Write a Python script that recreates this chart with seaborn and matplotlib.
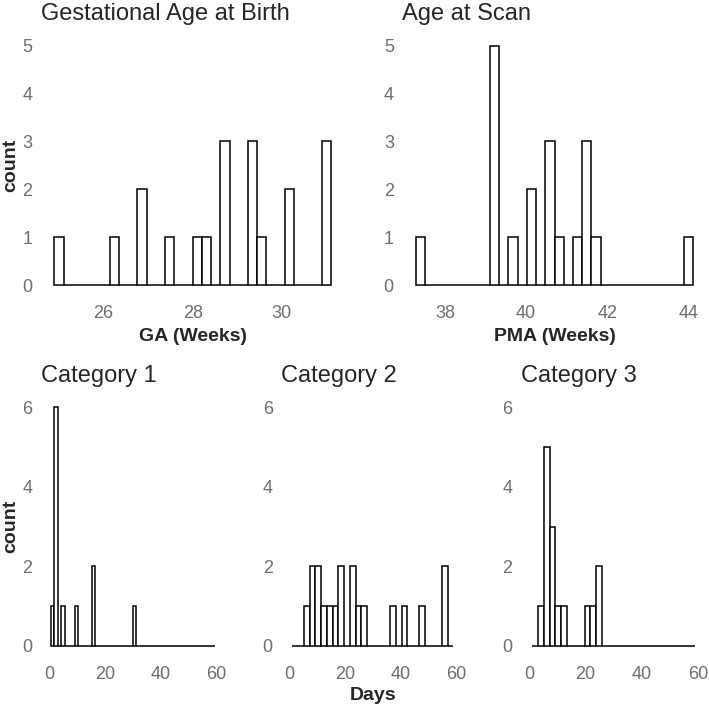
import numpy as np
import pandas as pd
import matplotlib
matplotlib.use('Agg')
import matplotlib.pyplot as plt
import seaborn as sns

# gestational age at birth and age at scan (weeks)
ga_weeks = [25.0, 26.25, 26.85, 26.9, 27.5, 28.1, 28.3, 28.7, 28.7, 28.75,
            29.3, 29.35, 29.4, 29.55, 30.15, 30.2, 31.0, 31.0, 31.0]
pma_weeks = [37.4, 39.2, 39.2, 39.2, 39.25, 39.25, 39.7, 40.1, 40.15,
             40.55, 40.6, 40.6, 40.8, 41.25, 41.5, 41.5, 41.5, 41.7, 44.0]

# days, per category
cat1_days = [1, 2, 2, 2, 3, 3, 3, 5, 10, 16, 16, 31]
cat2_days = [6, 8, 9, 10, 11, 12, 14, 16, 18, 19, 22, 23, 25, 27, 37, 41, 47, 55, 56]
cat3_days = [4, 6, 6, 6, 7, 7, 8, 8, 9, 10, 12, 20, 22, 24, 25]

top_titles = ['Gestational Age at Birth', 'Age at Scan']
bottom_titles = ['Category 1', 'Category 2', 'Category 3']

sns.set_style('white')
plt.rcParams['font.family'] = ['Liberation Sans', 'DejaVu Sans']

TICK_COLOR = '#6e6e6e'
W, H = 709, 708
fig = plt.figure(figsize=(W / 100, H / 100), dpi=100)


def add_panel(left, top, right, bottom):
    return fig.add_axes([left / W, 1 - bottom / H, (right - left) / W, (bottom - top) / H])


def data_bins(values, n=30):
    # ggplot style: 30 bins, first/last centred on min/max
    lo, hi = min(values), max(values)
    w = (hi - lo) / (n - 1)
    return lo - w / 2 + w * np.arange(n + 1)


def limit_bins(n, lo=0, hi=60):
    # bins over the scale limits, outer bins dropped
    w = (hi - lo) / (n - 1)
    edges = lo - w / 2 + w * np.arange(n + 1)
    return edges[1:-1]


def draw_hist(ax, values, bins):
    sns.histplot(x=values, bins=bins, ax=ax, color='white', edgecolor='black',
                 linewidth=1.1, alpha=1)


def style(ax, title, xticks, yticks, ylim, xlim):
    ax.set_xlim(*xlim)
    ax.set_ylim(*ylim)
    ax.set_xticks(xticks)
    ax.set_yticks(yticks)
    ax.tick_params(length=0, pad=6, labelsize=13, colors=TICK_COLOR)
    for s in ax.spines.values():
        s.set_visible(False)
    ax.set_title(title, loc='left', fontsize=17, pad=10)
    ax.set_xlabel('')
    ax.set_ylabel('')


def y_title(ax, left_px, width_px):
    ax.set_ylabel('count', fontsize=14, fontweight='bold')
    ax.yaxis.set_label_coords((19 - left_px) / width_px, 0.5)


# top row
ax1 = add_panel(40.6, 33.7, 344.8, 297)
b1 = data_bins(ga_weeks)
draw_hist(ax1, ga_weeks, b1)
pad1 = 0.05 * (b1[-1] - b1[0])
style(ax1, top_titles[0], [26, 28, 30], range(6), (-0.25, 5.25), (b1[0] - pad1, b1[-1] + pad1))
ax1.set_xlabel('GA (Weeks)', fontsize=14, fontweight='bold', labelpad=4)
y_title(ax1, 40.6, 344.8 - 40.6)

ax2 = add_panel(402.2, 33.7, 706.8, 297)
b2 = data_bins(pma_weeks)
draw_hist(ax2, pma_weeks, b2)
pad2 = 0.05 * (b2[-1] - b2[0])
style(ax2, top_titles[1], [38, 40, 42, 44], range(6), (-0.25, 5.25), (b2[0] - pad2, b2[-1] + pad2))
ax2.set_xlabel('PMA (Weeks)', fontsize=14, fontweight='bold', labelpad=4)

# bottom row
bottom_data = [cat1_days, cat2_days, cat3_days]
bottom_bins = [limit_bins(50), limit_bins(30), limit_bins(30)]
bottom_pos = [(40.9, 225.1), (281.1, 464.5), (520.7, 706.7)]
for i, (vals, bins, (l, r)) in enumerate(zip(bottom_data, bottom_bins, bottom_pos)):
    ax = add_panel(l, 395.4, r, 657.9)
    draw_hist(ax, vals, bins)
    style(ax, bottom_titles[i], [0, 20, 40, 60], [0, 2, 4, 6], (-0.3, 6.3), (-3, 63))
    if i == 0:
        y_title(ax, l, r - l)
    if i == 1:
        ax.set_xlabel('Days', fontsize=14, fontweight='bold', labelpad=3)

fig.savefig('out.png', dpi=100)
